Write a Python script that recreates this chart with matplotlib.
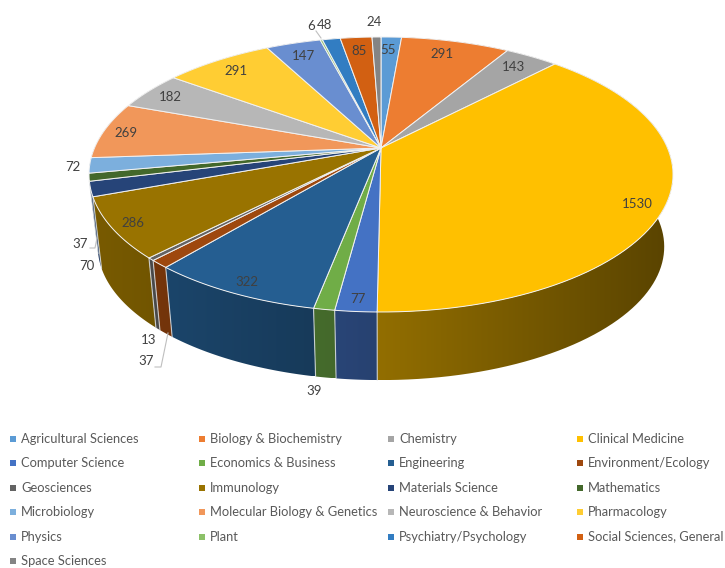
import numpy as np
import matplotlib
matplotlib.use("Agg")
import matplotlib.pyplot as plt
from matplotlib.patches import Polygon

# ==============================
# Data
# ==============================
categories = [
    "Agricultural Sciences", "Biology & Biochemistry", "Chemistry", "Clinical Medicine",
    "Computer Science", "Economics & Business", "Engineering", "Environment/Ecology",
    "Geosciences", "Immunology", "Materials Science", "Mathematics",
    "Microbiology", "Molecular Biology & Genetics", "Neuroscience & Behavior", "Pharmacology",
    "Physics", "Plant", "Psychiatry/Psychology", "Social Sciences, General",
    "Space Sciences",
]
values = [55, 291, 143, 1530, 77, 39, 322, 37, 13, 286, 70, 37, 72, 269, 182, 291, 147, 6, 48, 85, 24]
colors = [
    "#5B9BD5", "#ED7D31", "#A5A5A5", "#FFC000", "#4472C4", "#70AD47", "#255E91",
    "#9E480E", "#636363", "#997300", "#264478", "#43682B", "#7CAFDD", "#F1975A",
    "#B7B7B7", "#FFCD33", "#698ED0", "#8CC168", "#327DC2", "#D26012", "#848484",
]

# where each value label sits, in picture pixels
label_xy = [
    (388, 50), (442, 54), (513, 67), (637, 204), (358, 299), (314, 391), (247, 282),
    (146, 361), (149, 340), (133, 223), (87, 266), (80, 244), (73, 167), (126, 133),
    (170, 97), (236, 71), (303, 56), (311, 26), (325, 25), (359, 51), (374, 22),
]

# ==============================
# Pie geometry (perspective disc)
# ==============================
cx, cy = 381, 148
R, Q, p = 286.5, 132.4, 0.1927
bottom_scale, depth = 0.97, 73


def top_rim(a):
    u, v = np.sin(a), -np.cos(a)
    w = 1 / (1 - p * v)
    return cx + R * u * w, cy + Q * v * w


def bottom_rim(a):
    u, v = np.sin(a), -np.cos(a)
    w = 1 / (1 - p * v)
    return cx + bottom_scale * R * u * w, cy + bottom_scale * Q * v * w + depth


def side_gradient(color, x0, x1):
    # sides go darker from left to right
    xs = np.linspace(x0, x1, 64)
    f = 0.57 - 0.22 * np.clip((xs - cx) / 292, -1, 1)
    return np.outer(f, matplotlib.colors.to_rgb(color))[np.newaxis, :, :]


fractions = np.cumsum([0] + values) / sum(values)
angles = fractions * 2 * np.pi

fig = plt.figure(figsize=(7.25, 5.68), dpi=100)
ax = fig.add_axes([0, 0, 1, 1])

# ------------------------------
# Sides, back to front
# ------------------------------
order = sorted(range(len(values)), key=lambda i: -np.cos((angles[i] + angles[i + 1]) / 2))
for i in order:
    start, end = angles[i], angles[i + 1]
    aa = np.linspace(start, end, 80)
    tx, ty = top_rim(aa)
    bx, by = bottom_rim(aa)
    px, py = np.r_[tx, bx[::-1]], np.r_[ty, by[::-1]]
    x0, x1 = px.min(), px.max()
    outline = Polygon(np.c_[px, py], closed=True, transform=ax.transData, facecolor="none", edgecolor="none")
    ax.add_patch(outline)
    img = ax.imshow(side_gradient(colors[i], x0, x1), extent=(x0, x1, py.max(), py.min()),
                    aspect="auto", interpolation="bilinear", zorder=2)
    img.set_clip_path(outline)
    if -np.cos(start) > 0.2:
        tx, ty = top_rim(start)
        bx, by = bottom_rim(start)
        ax.plot([tx, bx], [ty, by], color="#dfe3e6", lw=0.8, alpha=0.8, zorder=3)

ax.set_xlim(0, 725)
ax.set_ylim(568, 0)
ax.axis("off")

# ------------------------------
# Top face
# ------------------------------
for i in range(len(values)):
    aa = np.linspace(angles[i], angles[i + 1], 80)
    tx, ty = top_rim(aa)
    ax.fill(np.r_[cx, tx], np.r_[cy, ty], facecolor=colors[i], edgecolor="#f2f2f2",
            lw=0.7, joinstyle="round", zorder=4)

# ------------------------------
# Labels and leader lines
# ------------------------------
text_font = "Lato"
for v, (lx, ly) in zip(values, label_xy):
    ax.text(lx, ly, str(v), ha="center", va="center", fontsize=9.5, family=text_font,
            color="#404040", zorder=6)

leaders = [
    ([90, 95, 97], [248, 248, 238]),
    ([155, 161, 168], [367, 367, 333]),
    ([316, 321], [31, 38]),
]
for lx, ly in leaders:
    ax.plot(lx, ly, color="#bfbfbf", lw=0.8, zorder=5)

# ------------------------------
# Legend
# ------------------------------
for i, name in enumerate(categories):
    col, row = i % 4, i // 4
    x = 13 + 189 * col
    y = 439 + 24.4 * row
    ax.scatter([x], [y], marker="s", s=14, color=colors[i], linewidths=0, zorder=6)
    ax.text(x + 8, y, name, ha="left", va="center", fontsize=9.25, family=text_font, color="#595959")

fig.savefig("out.png", dpi=100)
